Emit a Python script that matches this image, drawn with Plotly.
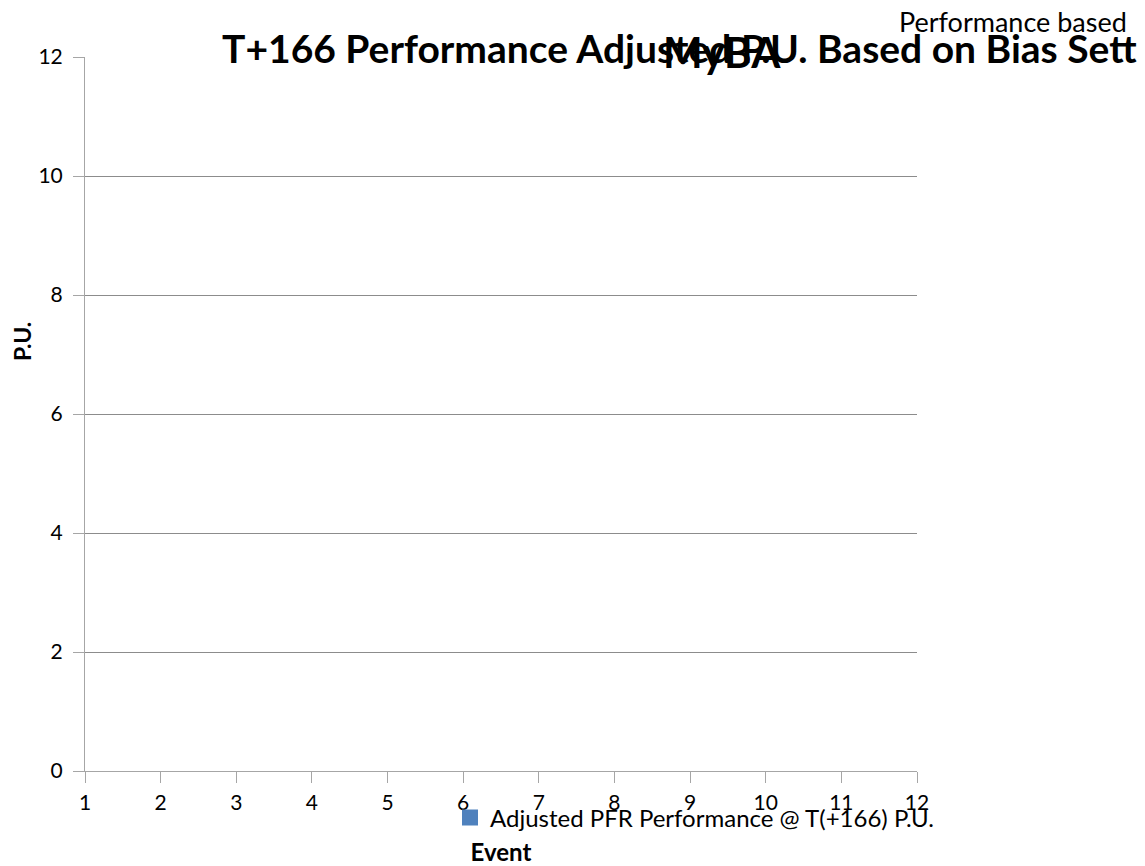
import plotly.graph_objects as go

# Series: no recorded values for the adjusted PFR performance
series_name = "Adjusted PFR Performance @ T(+166) P.U."
events = [None]
pu_values = [None]

x_ticks = list(range(1, 13))
y_ticks = [0, 2, 4, 6, 8, 10, 12]

title_text = "T+166 Performance Adjusted P.U. Based on Bias Sett"
overlay_title = "MyBA"
subtitle_text = "Performance based"
x_title = "Event"
y_title = "P.U."

FONT = "Lato"
GRID = "#8c8c8c"
AXIS = "#a6a6a6"
SERIES_COLOR = "#4f81bd"

# plot area in pixels: left 85, right 917, top 57, bottom 771
L, R, T, B = 85, 917, 57, 771
W, H = R - L, B - T


def px_x(p):
    return (p - L) / W


def px_y(p):
    return (B - p) / H


fig = go.Figure()
fig.add_trace(go.Scatter(x=events, y=pu_values, name=series_name, mode="markers",
                         marker=dict(symbol="square", size=16, color=SERIES_COLOR),
                         showlegend=True))

fig.update_layout(
    width=1145, height=866,
    margin=dict(l=L, r=1145 - R, t=T, b=866 - B),
    paper_bgcolor="white", plot_bgcolor="white",
    font=dict(family=FONT, size=21, color="black"),
    showlegend=True,
    legend=dict(x=px_x(450), y=px_y(818), xanchor="left", yanchor="middle",
                orientation="h", bgcolor="rgba(0,0,0,0)",
                font=dict(family=FONT, size=24, color="black"),
                itemwidth=30),
    xaxis=dict(range=[1, 12], tickvals=x_ticks, ticks="outside", ticklen=11,
               tickcolor=AXIS, showline=True, linecolor=AXIS, linewidth=1,
               showgrid=False, zeroline=False, automargin=False,
               ticklabelstandoff=2,
               tickfont=dict(family=FONT, size=21, color="black"),
               title=dict(text="<b>" + x_title + "</b>", standoff=36,
                          font=dict(family=FONT, size=24))),
    yaxis=dict(range=[0, 12], tickvals=y_ticks, ticks="outside", ticklen=11,
               tickcolor=AXIS, showline=True, linecolor=AXIS, linewidth=1,
               showgrid=True, gridcolor=GRID, gridwidth=1, zeroline=False,
               automargin=False, ticklabelstandoff=6,
               tickfont=dict(family=FONT, size=21, color="black")),
    annotations=[
        dict(text="<b>" + y_title + "</b>", xref="paper", yref="paper",
             x=px_x(22), y=px_y(342), xanchor="center", yanchor="middle",
             textangle=-90, showarrow=False,
             font=dict(family=FONT, size=23, color="black")),
        dict(text="<b>" + title_text + "</b>", xref="paper", yref="paper",
             x=px_x(220), y=px_y(48), xanchor="left", yanchor="middle",
             showarrow=False, font=dict(family=FONT, size=39, color="black")),
        dict(text="<b>" + overlay_title + "</b>", xref="paper", yref="paper",
             x=px_x(721.5), y=px_y(51.5), xanchor="center", yanchor="middle",
             showarrow=False, font=dict(family=FONT, size=42, color="black")),
        dict(text=subtitle_text, xref="paper", yref="paper",
             x=px_x(1129), y=px_y(22), xanchor="right", yanchor="middle",
             showarrow=False, font=dict(family=FONT, size=27, color="black")),
    ],
)

fig.write_html("out.html")
